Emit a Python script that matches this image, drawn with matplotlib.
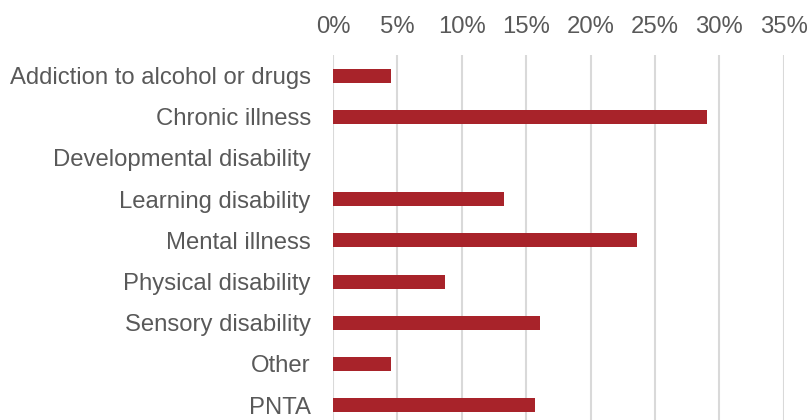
import matplotlib
matplotlib.use("Agg")
import matplotlib.pyplot as plt
from matplotlib.ticker import FuncFormatter

categories = ["Addiction to alcohol or drugs", "Chronic illness", "Developmental disability",
              "Learning disability", "Mental illness", "Physical disability",
              "Sensory disability", "Other", "PNTA"]
values = [4.5, 29.0, 0.0, 13.3, 23.6, 8.7, 16.1, 4.5, 15.7]
xticks = [0, 5, 10, 15, 20, 25, 30, 35]

plt.rcParams['font.family'] = ['Liberation Sans', 'DejaVu Sans']

fig = plt.figure(figsize=(8.1, 4.2), dpi=100)
ax = fig.add_axes([333/810, 0, (783.8-333)/810, (420-55)/420])

y = list(range(len(categories)))
ax.barh(y, values, height=0.34, color="#A8232A", zorder=3)

ax.set_xlim(0, 35)
ax.set_ylim(8.36, -0.5)
ax.set_yticks(y)
ax.set_yticklabels(categories)
ax.set_xticks(xticks)
ax.xaxis.set_major_formatter(FuncFormatter(lambda v, p: f"{v:.0f}%"))
ax.xaxis.tick_top()
ax.grid(axis='x', color="#D9D9D9", linewidth=1.5, zorder=0)
for s in ax.spines.values():
    s.set_visible(False)
ax.tick_params(axis='y', length=0, pad=16, labelsize=17.2, labelcolor="#595959")
ax.tick_params(axis='x', length=0, pad=12, labelsize=17.2, labelcolor="#595959")

fig.savefig("out.png", dpi=100)
